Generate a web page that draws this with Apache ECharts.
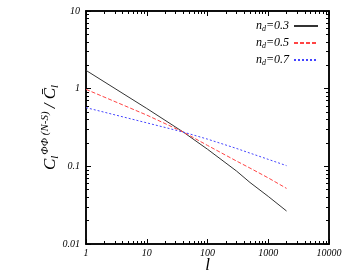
<!DOCTYPE html>
<html><head><meta charset="utf-8">
<script src="https://cdn.jsdelivr.net/npm/echarts@6/dist/echarts.min.js"></script>
<style>html,body{margin:0;padding:0;background:#fff}#c{width:343px;height:273px}</style>
</head><body><div id="c"></div>
<script>
const ells = [1, 10, 40, 100, 300, 500, 1000, 2000];
const nd03 = [1.72, 0.556, 0.276, 0.166, 0.087, 0.062, 0.041, 0.0266];
const nd05 = [0.98, 0.457, 0.276, 0.186, 0.117, 0.095, 0.071, 0.052];
const nd07 = [0.57, 0.363, 0.276, 0.224, 0.17, 0.148, 0.123, 0.102];
const names = ['n_d=0.3', 'n_d=0.5', 'n_d=0.7'];
const xTicks = [1, 10, 100, 1000, 10000];
const xTickLabels = ['1', '10', '100', '1000', '10000'];
const yTicks = [0.01, 0.1, 1, 10];
const yTickLabels = ['0.01', '0.1', '1', '10'];
const minorMult = [2, 3, 4, 5, 6, 7, 8, 9];

const F = 'Liberation Serif';
const chart = echarts.init(document.getElementById('c'));
const pair = a => ells.map((l, i) => [l, a[i]]);
const minorOf = t => t.slice(0, -1).flatMap(d => minorMult.map(m => +(d * m).toPrecision(6)));

function mkAxis(pos, ticks, labels, kind, extra) {
  const isMajor = kind === 'major';
  return Object.assign({
    type: 'log', logBase: 10, position: pos,
    min: ticks[0], max: ticks[ticks.length - 1],
    axisLine: {show: true, onZero: false, lineStyle: {color: '#000', width: 1.5}},
    axisTick: {show: true, inside: true, length: isMajor ? 5 : 3,
      customValues: isMajor ? ticks : minorOf(ticks), lineStyle: {color: '#000', width: 1}},
    minorTick: {show: false},
    splitLine: {show: false},
    nameMoveOverlap: false,
    axisLabel: (isMajor && labels) ? {
      show: true, customValues: ticks,
      formatter: v => labels[ticks.findIndex(t => Math.abs(Math.log10(t) - Math.log10(v)) < 1e-6)] || '',
      fontFamily: F, fontStyle: 'italic', fontSize: 10, color: '#000',
      margin: pos === 'bottom' ? 4 : 6
    } : {show: false}
  }, extra || {});
}

const legRich = {
  n: {fontFamily: F, fontStyle: 'italic', fontSize: 12, color: '#000'},
  d: {fontFamily: F, fontStyle: 'italic', fontSize: 8, color: '#000', padding: [6, 0, 0, 0]}
};

chart.setOption({
  animation: false,
  grid: {left: 86, right: 14, top: 11, bottom: 29, outerBoundsMode: 'none', containLabel: false},
  legend: {
    orient: 'vertical', right: 19, top: 15, align: 'right',
    itemWidth: 24, itemHeight: 10, itemGap: 4,
    data: names,
    itemStyle: {opacity: 0},
    formatter: s => { const p = s.split('_'); const q = p[1].split('='); return '{n|' + p[0] + '}{d|' + q[0] + '}{n|=' + q[1] + '}'; },
    textStyle: {rich: legRich}
  },
  xAxis: [
    mkAxis('bottom', xTicks, xTickLabels, 'major', {
      name: 'l', nameLocation: 'middle', nameGap: 13,
      nameTextStyle: {fontFamily: F, fontStyle: 'italic', fontSize: 17, color: '#000'}
    }),
    mkAxis('bottom', xTicks, null, 'minor'),
    mkAxis('top', xTicks, null, 'major'),
    mkAxis('top', xTicks, null, 'minor')
  ],
  yAxis: [
    mkAxis('left', yTicks, yTickLabels, 'major', {
      name: '{c|C}{s|l}{p|ΦΦ (N-S)}{c|/ C̄}{s|l}', nameLocation: 'middle', nameGap: 25, nameRotate: 90,
      nameTextStyle: {
        color: '#000',
        rich: {
          c: {fontFamily: F, fontStyle: 'italic', fontSize: 17, color: '#000'},
          s: {fontFamily: F, fontStyle: 'italic', fontSize: 11, color: '#000', padding: [10, 0, 0, 0]},
          p: {fontFamily: F, fontStyle: 'italic', fontSize: 11, color: '#000', padding: [0, 3, 10, 1]}
        }
      }
    }),
    mkAxis('left', yTicks, null, 'minor'),
    mkAxis('right', yTicks, null, 'major'),
    mkAxis('right', yTicks, null, 'minor')
  ],
  series: [
    {name: names[0], type: 'line', data: pair(nd03), symbol: 'none', lineStyle: {color: '#333', width: 1, type: 'solid'}, itemStyle: {color: '#333'}},
    {name: names[1], type: 'line', data: pair(nd05), symbol: 'none', lineStyle: {color: '#f44', width: 1, type: [4, 2]}, itemStyle: {color: '#f44'}},
    {name: names[2], type: 'line', data: pair(nd07), symbol: 'none', lineStyle: {color: '#44f', width: 1, type: [2, 2]}, itemStyle: {color: '#44f'}}
  ]
});
</script></body></html>
